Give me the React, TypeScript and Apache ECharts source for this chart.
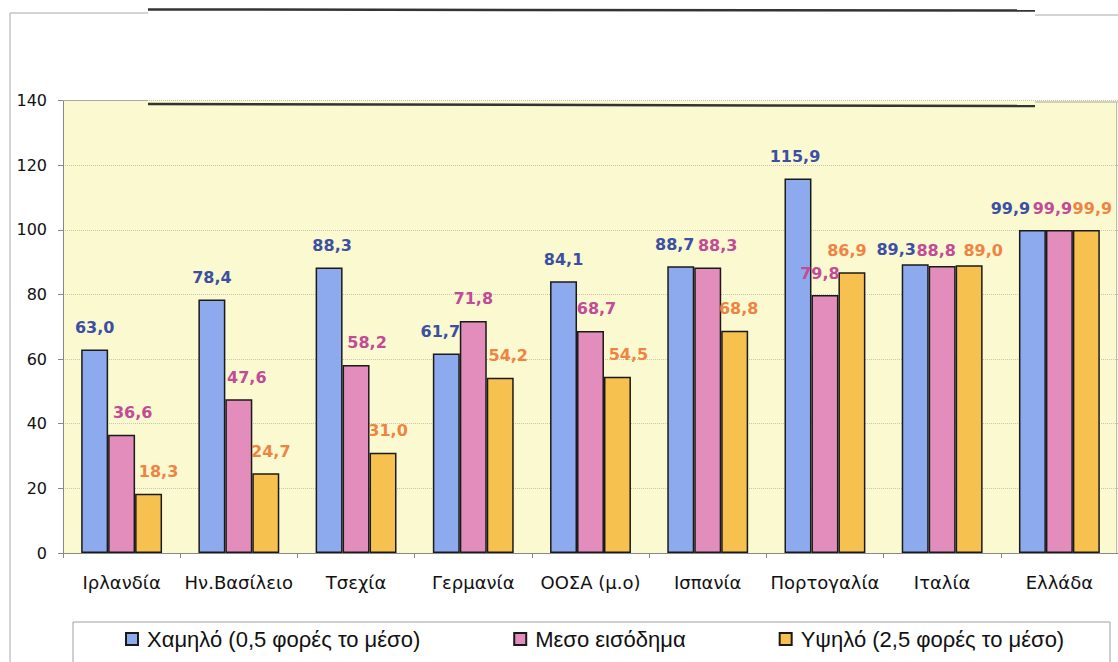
import React, { useEffect, useRef } from "react";
import * as echarts from "echarts";

const categories = ["Ιρλανδία", "Ην.Βασίλειο", "Τσεχία", "Γερμανία", "ΟΟΣΑ (μ.ο)", "Ισπανία", "Πορτογαλία", "Ιταλία", "Ελλάδα"];
const seriesNames = ["Χαμηλό (0,5 φορές το μέσο)", "Μεσο εισόδημα", "Υψηλό (2,5 φορές το μέσο)"];
const lowValues = [63.0, 78.4, 88.3, 61.7, 84.1, 88.7, 115.9, 89.3, 99.9];
const midValues = [36.6, 47.6, 58.2, 71.8, 68.7, 88.3, 79.8, 88.8, 99.9];
const highValues = [18.3, 24.7, 31.0, 54.2, 54.5, 68.8, 86.9, 89.0, 99.9];
const yTicks = { min: 0, max: 140, interval: 20 };

const barColors = ["#8eaaee", "#e28dbb", "#f7c150"];
const labelColors = ["#3b4fa3", "#c24b98", "#ee8444"];

// label nudges (x) as placed in the original chart
const lowLabelDx = [0, 0, 3, -6, 0, -6, -3, -19, -22];
const midLabelDx = [11, 8, 11, 0, 6, 10, -5, -6, -7];
const highLabelDx = [10, 5, 5, 8, 11, 4, -5, 14, 6];
const labelDy = [0, 0, 0, 0, 0, 0, 0, 7, 0];

export default function App() {
  const ref = useRef<HTMLDivElement>(null);
  useEffect(() => {
    if (!ref.current) return;
    const chart = echarts.init(ref.current, null, { renderer: "svg" });
    const values = [lowValues, midValues, highValues];
    const dxs = [lowLabelDx, midLabelDx, highLabelDx];
    const fmt = (v: number) => v.toFixed(1).replace(".", ",");
    chart.setOption({
      animation: false,
      backgroundColor: "#ffffff",
      grid: { left: 63, right: -2, top: 100.5, bottom: 109, containLabel: false, show: true, backgroundColor: "#fbf9cf", borderWidth: 0 },
      legend: {
        left: 125,
        top: 628,
        padding: 0,
        itemWidth: 12,
        itemHeight: 12,
        itemGap: 93,
        icon: "rect",
        textStyle: { fontFamily: "Liberation Sans", fontSize: 22, color: "#111", padding: [0, 0, 0, 4] },
        data: seriesNames,
      },
      xAxis: {
        type: "category",
        data: categories,
        axisLine: { show: true, lineStyle: { color: "#888", width: 1 } },
        axisTick: { show: true, length: 5, lineStyle: { color: "#888" } },
        axisLabel: { interval: 0, fontFamily: "DejaVu Sans", fontSize: 18, color: "#111", margin: 20 },
      },
      yAxis: {
        type: "value",
        min: yTicks.min,
        max: yTicks.max,
        interval: yTicks.interval,
        axisLine: { show: true, lineStyle: { color: "#888", width: 1 } },
        axisTick: { show: true, length: 5, lineStyle: { color: "#888" } },
        axisLabel: { fontFamily: "DejaVu Sans", fontSize: 16, color: "#111", margin: 16 },
        splitLine: { show: true, lineStyle: { color: "#c8c6b0", type: "dotted", width: 1 } },
      },
      series: values.map((v, i) => ({
        name: seriesNames[i],
        type: "bar",
        barGap: "0%",
        barCategoryGap: "31%",
        itemStyle: { color: barColors[i], borderColor: "#1a1a1a", borderWidth: 1.5 },
        label: {
          show: true,
          position: "top",
          distance: 14,
          fontFamily: "DejaVu Sans",
          fontWeight: "bold",
          fontSize: 16,
          color: labelColors[i],
        },
        data: v.map((val, j) => ({
          value: val,
          label: { offset: [dxs[i][j], labelDy[j]], formatter: fmt(val) },
        })),
      })),
      graphic: [
        { type: "rect", shape: { x: 73, y: 622, width: 1037, height: 60 }, style: { fill: "#ffffff", stroke: "#a0a0a0", lineWidth: 1 }, z: -10 },
        { type: "line", shape: { x1: 10, y1: 13, x2: 10, y2: 662 }, style: { stroke: "#a8a8a8", lineWidth: 1 } },
        { type: "line", shape: { x1: 10, y1: 13, x2: 148, y2: 13 }, style: { stroke: "#a8a8a8", lineWidth: 1 } },
        { type: "line", shape: { x1: 148, y1: 9.5, x2: 1035, y2: 10.5 }, style: { stroke: "#333", lineWidth: 2.5 } },
        { type: "line", shape: { x1: 1035, y1: 15, x2: 1118, y2: 15 }, style: { stroke: "#a8a8a8", lineWidth: 1 } },
        { type: "line", shape: { x1: 63, y1: 100.5, x2: 148, y2: 100.5 }, style: { stroke: "#a8a8a8", lineWidth: 1 }, z: 10 },
        { type: "line", shape: { x1: 148, y1: 104, x2: 1035, y2: 106 }, style: { stroke: "#333", lineWidth: 2.5 }, z: 10 },
        { type: "line", shape: { x1: 1035, y1: 102, x2: 1118, y2: 102 }, style: { stroke: "#a8a8a8", lineWidth: 1 }, z: 10 },
        { type: "line", shape: { x1: 1116.5, y1: 102, x2: 1116.5, y2: 553 }, style: { stroke: "#bbbbbb", lineWidth: 1 }, z: 10 },
      ],
    });
    return () => chart.dispose();
  }, []);
  return (
    <div
      ref={ref}
      style={{ position: "absolute", left: 0, top: 0, width: 1118, height: 662, background: "#fff" }}
    />
  );
}
